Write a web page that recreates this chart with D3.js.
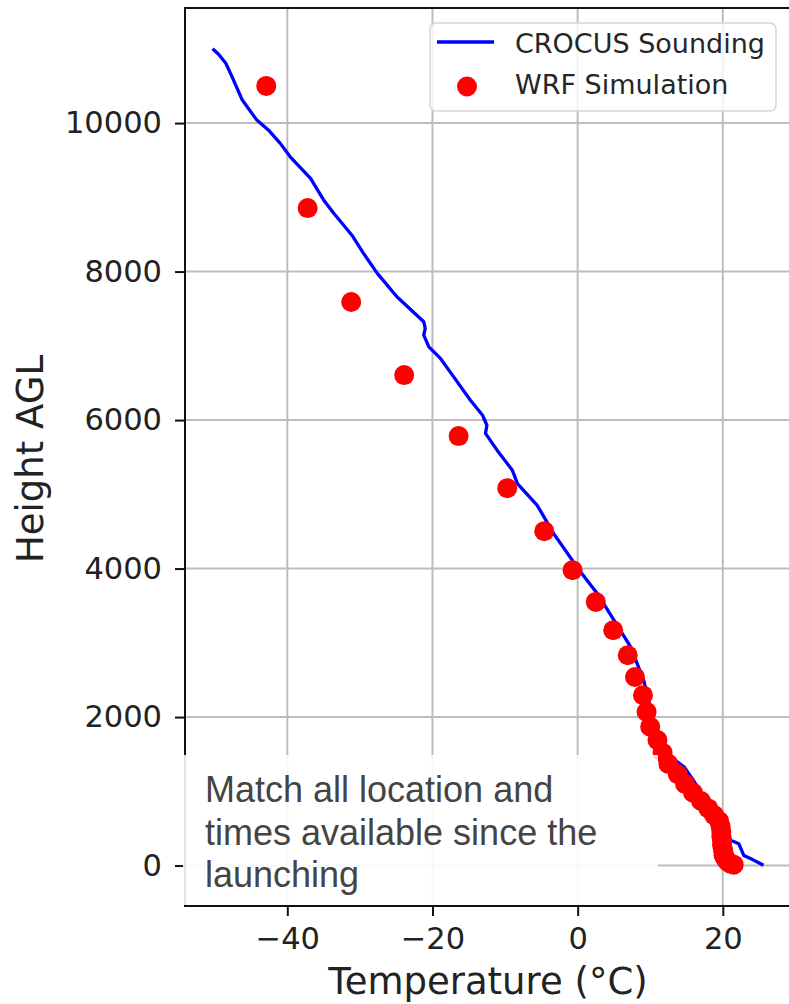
<!DOCTYPE html>
<html>
<head>
<meta charset="utf-8">
<script src="https://cdn.jsdelivr.net/npm/d3@7"></script>
<style>
  body { margin: 0; background: #fff; }
  svg { display: block; }
</style>
</head>
<body>
<svg width="789" height="1004"></svg>
<script>
// CROCUS sounding (temperature in degC, height AGL in m)
var sondeHeight = [11000, 10930, 10810, 10620, 10310, 10040, 9895, 9730, 9545, 9255,
    8965, 8785, 8490, 8245, 7975, 7660, 7325, 7235, 7145, 6985,
    6830, 6585, 6270, 6065, 5930, 5820, 5595, 5325, 5145, 4855,
    4740, 4470, 3980, 3665, 3305, 2945, 2495, 2225, 2010, 1690,
    1445, 1325, 1170, 875, 715, 580, 445, 340, 295, 135, 80, 5];
var sondeTemp = [-50.3, -49.5, -48.5, -47.6, -46.2, -44.2, -42.5, -41.0, -39.6, -36.8,
    -35.0, -33.6, -31.1, -29.5, -27.6, -24.9, -21.2, -21.0, -21.2, -20.5,
    -18.9, -17.1, -14.8, -13.1, -12.5, -12.7, -11.1, -9.0, -8.3, -5.6,
    -4.9, -3.3, 0.2, 2.7, 5.0, 7.3, 9.1, 9.8, 10.2, 11.4,
    13.1, 14.7, 15.8, 17.7, 19.0, 20.0, 20.6, 21.1, 22.2, 22.9, 24.1, 25.6];

// WRF simulation levels
var wrfHeight = [10500, 8855, 7590, 6606, 5784, 5083, 4504, 3978, 3551, 3169,
    2832, 2540, 2293, 2070, 1870, 1690, 1520, 1370, 1230, 1100,
    980, 870, 770, 680, 600, 525, 455, 390, 330, 275,
    225, 180, 140, 105, 75, 50, 30, 12];
var wrfTemp = [-42.9, -37.2, -31.2, -23.9, -16.4, -9.7, -4.6, -0.7, 2.5, 4.9,
    6.9, 7.9, 9.0, 9.5, 10.0, 11.0, 11.7, 12.5, 13.8, 14.8,
    15.9, 17.0, 18.0, 18.8, 19.5, 19.7, 19.8, 19.8, 19.9, 19.9,
    20.0, 20.1, 20.1, 20.3, 20.5, 20.7, 21.0, 21.5];

var xTicks = [-40, -20, 0, 20];
var yTicks = [0, 2000, 4000, 6000, 8000, 10000];

var seriesNames = ["CROCUS Sounding", "WRF Simulation"];
var noteLines = ["Match all location and", "times available since the", "launching"];

var svg = d3.select("svg");
var margin = {left: 185, top: 8, right: -2, bottom: 98};
var width = +svg.attr("width") - margin.left - margin.right,
    height = +svg.attr("height") - margin.top - margin.bottom;

// autoscale with 5% margins, like matplotlib
function padded(vals) {
    var e = d3.extent(vals), m = (e[1] - e[0]) * 0.05;
    return [e[0] - m, e[1] + m];
}
var x = d3.scaleLinear().domain(padded(sondeTemp.concat(wrfTemp))).range([0, width]);
var y = d3.scaleLinear().domain(padded(sondeHeight.concat(wrfHeight))).range([height, 0]);

var g = svg.append("g").attr("transform", "translate(" + margin.left + "," + margin.top + ")");

// grid
g.append("g").selectAll("line").data(xTicks).enter().append("line")
    .attr("x1", d => x(d)).attr("x2", d => x(d))
    .attr("y1", 0).attr("y2", height)
    .attr("stroke", "#bdbdbd").attr("stroke-width", 2);
g.append("g").selectAll("line").data(yTicks).enter().append("line")
    .attr("x1", 0).attr("x2", width)
    .attr("y1", d => y(d)).attr("y2", d => y(d))
    .attr("stroke", "#bdbdbd").attr("stroke-width", 2);

// axes
var fmt = d3.format("d");
var xAxis = g.append("g").attr("transform", "translate(0," + height + ")")
    .call(d3.axisBottom(x).tickValues(xTicks).tickFormat(fmt).tickSize(10).tickPadding(11));
var yAxis = g.append("g")
    .call(d3.axisLeft(y).tickValues(yTicks).tickFormat(fmt).tickSize(10).tickPadding(13));

[xAxis, yAxis].forEach(function (a) {
    a.select(".domain").remove();
    a.selectAll(".tick line").attr("stroke", "#111").attr("stroke-width", 2);
    a.selectAll(".tick text")
        .attr("fill", "#222")
        .style("font-family", "'DejaVu Sans', sans-serif")
        .style("font-size", "30.5px");
});

// frame
g.append("rect")
    .attr("x", 0).attr("y", 0).attr("width", width).attr("height", height)
    .attr("fill", "none").attr("stroke", "#111").attr("stroke-width", 2);

// sounding line
var line = d3.line()
    .x(function (d, i) { return x(sondeTemp[i]); })
    .y(function (d) { return y(d); });
g.append("path")
    .datum(sondeHeight)
    .attr("d", line)
    .attr("fill", "none")
    .attr("stroke", "#0000ff")
    .attr("stroke-width", 3.3)
    .attr("stroke-linejoin", "round");

// WRF points
g.append("g").selectAll("circle").data(wrfHeight).enter().append("circle")
    .attr("cx", function (d, i) { return x(wrfTemp[i]); })
    .attr("cy", function (d) { return y(d); })
    .attr("r", 10)
    .attr("fill", "#ff0000");

// axis labels
svg.append("text")
    .attr("x", margin.left + width / 2).attr("y", 994)
    .attr("text-anchor", "middle")
    .attr("fill", "#222")
    .style("font-family", "'DejaVu Sans', sans-serif")
    .style("font-size", "37px")
    .text("Temperature (°C)");
svg.append("text")
    .attr("transform", "translate(43," + (margin.top + height / 2 + 2) + ") rotate(-90)")
    .attr("text-anchor", "middle")
    .attr("fill", "#222")
    .style("font-family", "'DejaVu Sans', sans-serif")
    .style("font-size", "37px")
    .text("Height AGL");

// legend
var legend = svg.append("g").attr("transform", "translate(430,23)");
legend.append("rect")
    .attr("width", 346).attr("height", 88).attr("rx", 6)
    .attr("fill", "#fff").attr("fill-opacity", 0.8)
    .attr("stroke", "#d6d6d6").attr("stroke-width", 1.5);
legend.append("line")
    .attr("x1", 7).attr("x2", 64).attr("y1", 19).attr("y2", 19)
    .attr("stroke", "#0000ff").attr("stroke-width", 3.3);
legend.append("circle")
    .attr("cx", 37).attr("cy", 63.5).attr("r", 10).attr("fill", "#ff0000");
seriesNames.forEach(function (name, i) {
    legend.append("text")
        .attr("x", 85).attr("y", 30 + i * 41)
        .attr("fill", "#262626")
        .style("font-family", "'DejaVu Sans', sans-serif")
        .style("font-size", "27px")
        .text(name);
});

// note box over the lower left
var note = svg.append("g");
note.append("rect")
    .attr("x", 183).attr("y", 755).attr("width", 475).attr("height", 150)
    .attr("fill", "#fff").attr("fill-opacity", 0.88);
noteLines.forEach(function (t, i) {
    note.append("text")
        .attr("x", 205).attr("y", 802 + i * 42.5)
        .attr("fill", "#444")
        .style("font-family", "'Liberation Sans', Arial, sans-serif")
        .style("font-size", "36px")
        .text(t);
});
</script>
</body>
</html>
